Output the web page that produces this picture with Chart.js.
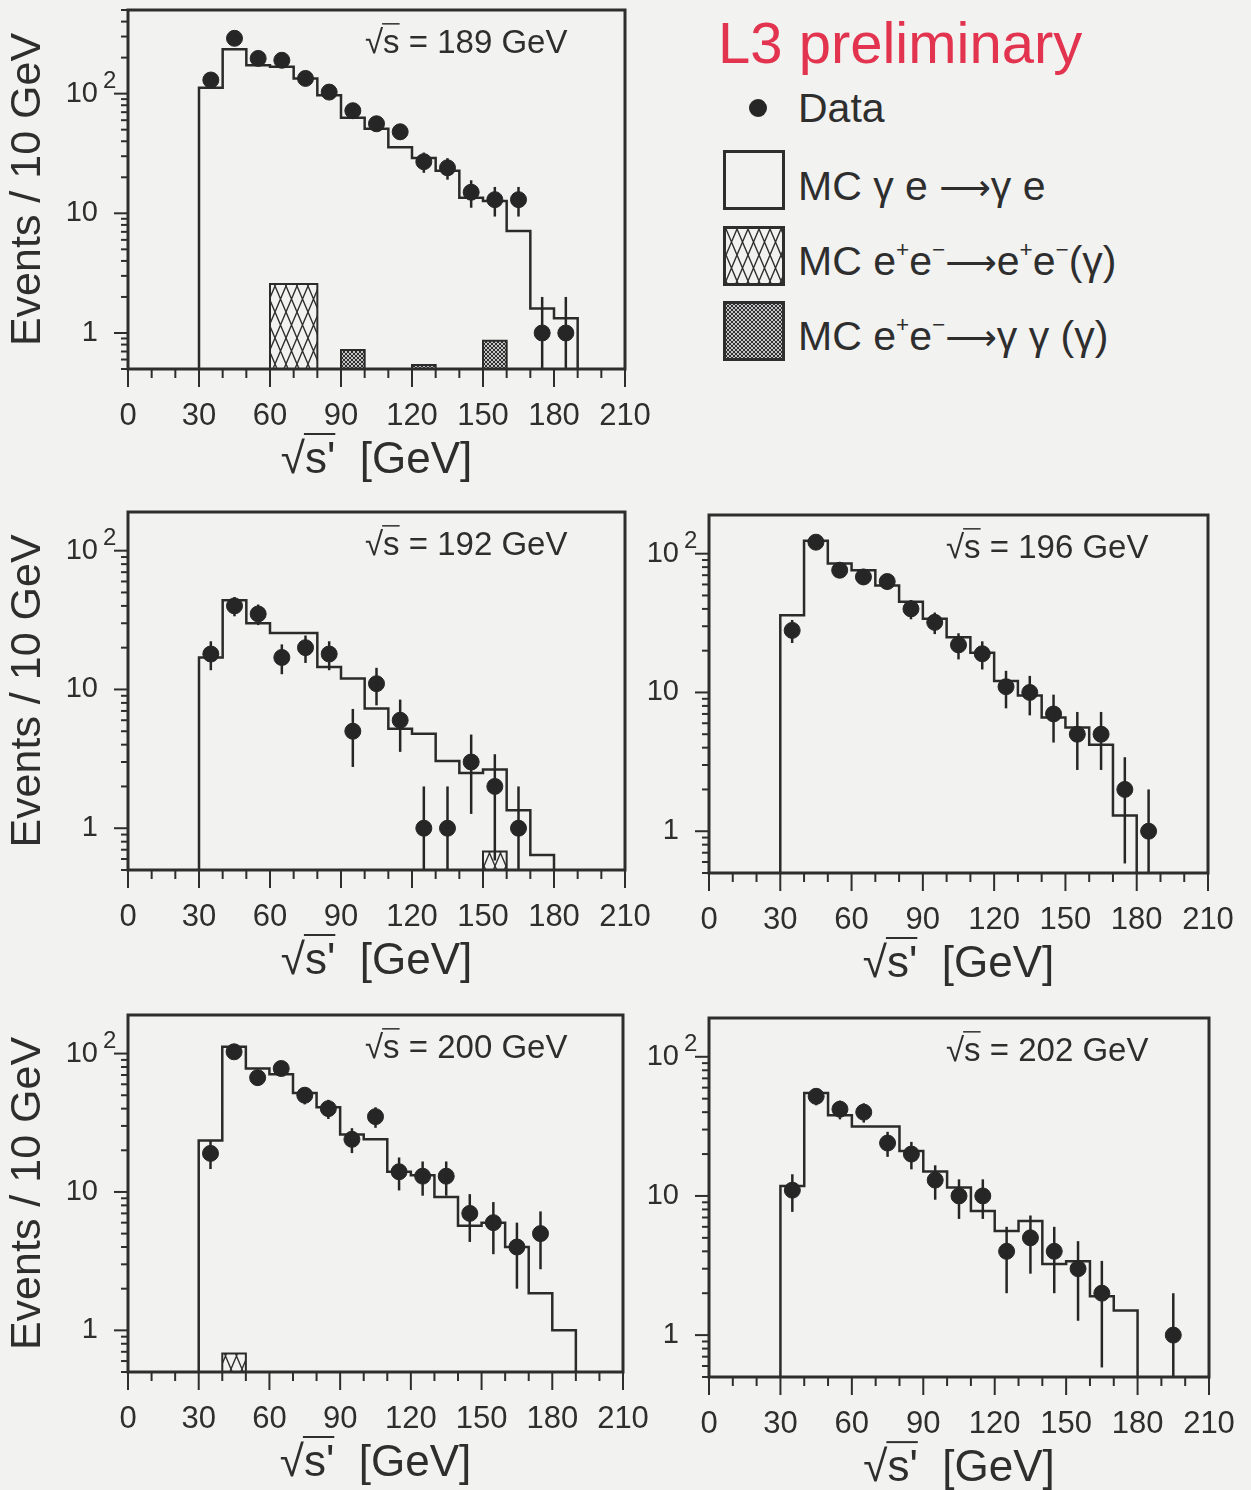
<!DOCTYPE html>
<html>
<head>
<meta charset="utf-8">
<title>L3 preliminary - sqrt(s') spectra</title>
<script src="https://cdn.jsdelivr.net/npm/chart.js@4.4.1/dist/chart.umd.min.js"></script>
<style>
  html, body { margin: 0; padding: 0; }
  body {
    width: 1251px; height: 1490px; position: relative; overflow: hidden;
    background: #f2f2f1; color: #2e2e2e;
    font-family: "Liberation Sans", Arial, sans-serif;
  }
  .panel { position: absolute; }
  .panel canvas { display: block; }
  .lg { position: absolute; white-space: nowrap; }
  #l3 { left: 718px; top: 14px; font-size: 58px; line-height: 58px; color: #e3344f; }
  .lg-text { left: 798px; font-size: 41px; line-height: 40px; height: 40px; }
  .sup { font-size: 55%; position: relative; top: -0.8em; }
  .arr { font-family: "DejaVu Sans", sans-serif; font-size: 36px; }
  .box { position: absolute; left: 723px; width: 56px; height: 54px; border: 3px solid #2e2e2e; }
  .box canvas { display: block; }
  #dot { position: absolute; left: 749px; top: 99px; width: 18px; height: 18px; border-radius: 50%; background: #262626; }
</style>
</head>
<body>

<div class="lg" id="l3">L3 preliminary</div>
<div id="dot"></div>
<div class="lg lg-text" style="top:88px">Data</div>
<div class="box" style="top:150px"></div>
<div class="lg lg-text" style="top:166px">MC γ e <span class="arr">⟶</span>γ e</div>
<div class="box" style="top:226px"><canvas id="swEe" width="56" height="54"></canvas></div>
<div class="lg lg-text" style="top:241px">MC e<span class="sup">+</span>e<span class="sup">−</span><span class="arr">⟶</span>e<span class="sup">+</span>e<span class="sup">−</span>(γ)</div>
<div class="box" style="top:301px"><canvas id="swGg" width="56" height="54"></canvas></div>
<div class="lg lg-text" style="top:316px">MC e<span class="sup">+</span>e<span class="sup">−</span><span class="arr">⟶</span>γ γ (γ)</div>

<script>
// 10 GeV bins, lower edges
const binLow = [30, 40, 50, 60, 70, 80, 90, 100, 110, 120, 130, 140, 150, 160, 170, 180, 190];
const binWidth = 10;
const xTickValues = [0, 30, 60, 90, 120, 150, 180, 210];
const xTickLabels = ['0', '30', '60', '90', '120', '150', '180', '210'];
const yTickValues = [1, 10, 100];
const yTickLabels = ['1', '10', '10^2'];

// sqrt(s) = 189 GeV
const data189 = [130, 290, 197, 190, 134, 103, 72, 56, 48, 27, 24, 15, 13, 13, 1, 1, null];
const mc189 = [112, 235, 173, 168, 134, 97, 63, 51, 35.6, 29, 22.7, 13.5, 12.7, 7.1, 1.6, 1.33, null];
const eeMc189 = [null, null, null, 2.56, 2.56, null, null, null, null, null, null, null, null, null, null, null, null];
const ggMc189 = [null, null, null, null, null, null, 0.72, null, null, 0.54, null, null, 0.86, null, null, null, null];

// sqrt(s) = 192 GeV
const data192 = [18, 40, 35, 17, 20, 18, 5, 11, 6, 1, 1, 3, 2, 1, null, null, null];
const mc192 = [17, 44, 30, 25.5, 25.5, 14.5, 12, 7.3, 5.2, 4.8, 3.05, 2.5, 2.65, 1.35, 0.64, null, null];
const eeMc192 = [null, null, null, null, null, null, null, null, null, null, null, null, 0.68, null, null, null, null];

// sqrt(s) = 196 GeV
const data196 = [28, 121, 76, 68, 63, 40, 32, 22, 19, 11, 10, 7, 5, 5, 2, 1, null];
const mc196 = [36, 124, 85, 76, 59, 45, 34, 25, 19.3, 12.1, 9.5, 6.6, 5.6, 4.2, 1.3, null, null];

// sqrt(s) = 200 GeV
const data200 = [19, 103, 67, 78, 50, 40, 24, 35, 14, 13, 13, 7, 6, 4, 5, null, null];
const mc200 = [23.5, 112, 78, 71, 52, 41, 26, 24, 14, 13.2, 9.2, 5.7, 6.0, 4.0, 1.85, 1.0, null];
const eeMc200 = [null, 0.68, null, null, null, null, null, null, null, null, null, null, null, null, null, null, null];

// sqrt(s) = 202 GeV
const data202 = [11, 52, 42, 40, 24, 20, 13, 10, 10, 4, 5, 4, 3, 2, null, null, 1];
const mc202 = [11.8, 55, 38, 31.6, 31.6, 21, 15, 11.5, 7.8, 5.6, 6.6, 3.25, 3.4, 1.9, 1.5, null, null];

const FONT = '"Liberation Sans", Arial, sans-serif';
const INK = '#2e2e2e';
Chart.defaults.font.family = FONT;
Chart.defaults.color = INK;

// Hatch tiles for the background MC processes
function hatchTile(kind) {
    const c = document.createElement('canvas');
    const w = kind === 'ee' ? 11 : 4;
    const h = kind === 'ee' ? 26 : 4;
    c.width = w; c.height = h;
    const g = c.getContext('2d');
    g.fillStyle = kind === 'ee' ? '#f2f2f1' : '#c4c4c4';
    g.fillRect(0, 0, w, h);
    g.strokeStyle = '#2e2e2e';
    g.lineWidth = kind === 'ee' ? 1.4 : 1;
    g.beginPath();
    g.moveTo(0, 0); g.lineTo(w, h);
    g.moveTo(w, 0); g.lineTo(0, h);
    g.stroke();
    return c;
}
const tiles = { ee: hatchTile('ee'), gg: hatchTile('gg') };
const patternCache = new WeakMap();
function patternFor(kind) {
    return (c) => {
        const chart = c.chart;
        if (!patternCache.has(chart)) patternCache.set(chart, {});
        const cache = patternCache.get(chart);
        if (!cache[kind]) cache[kind] = chart.ctx.createPattern(tiles[kind], 'repeat');
        return cache[kind];
    };
}

// legend swatches
['swEe', 'swGg'].forEach((id, i) => {
    const cv = document.getElementById(id);
    const g = cv.getContext('2d');
    g.fillStyle = g.createPattern(tiles[i === 0 ? 'ee' : 'gg'], 'repeat');
    g.fillRect(0, 0, cv.width, cv.height);
});

// outline of a histogram, one run of filled bins after another
function stepPoints(values, base) {
    const pts = [];
    let open = false;
    values.forEach((v, i) => {
        const x0 = binLow[i];
        if (v == null) {
            if (open) {
                pts.push({ x: x0, y: base });
                pts.push({ x: x0, y: null });
                open = false;
            }
            return;
        }
        if (!open) { pts.push({ x: x0, y: base }); open = true; }
        pts.push({ x: x0, y: v });
    });
    if (open) pts.push({ x: binLow[values.length - 1] + binWidth, y: base });
    return pts;
}

function pointsFrom(counts) {
    const pts = [];
    counts.forEach((n, i) => {
        if (n != null) pts.push({ x: binLow[i] + binWidth / 2, y: n });
    });
    return pts;
}

// sqrt symbol with a bar over the radicand
function drawRoot(ctx, x, yMid, radicand, rest, fs) {
    ctx.font = fs + 'px ' + FONT;
    ctx.textAlign = 'left';
    ctx.textBaseline = 'alphabetic';
    const base = yMid + fs * 0.36;
    const wR = ctx.measureText('√').width;
    const wS = ctx.measureText(radicand).width;
    ctx.fillText('√', x, base);
    ctx.fillText(radicand + rest, x + wR, base);
    ctx.lineWidth = Math.max(1.5, fs / 22);
    ctx.beginPath();
    ctx.moveTo(x + wR - 1, base - fs * 0.88);
    ctx.lineTo(x + wR + wS, base - fs * 0.88);
    ctx.stroke();
}

function rootWidth(ctx, radicand, rest, fs) {
    ctx.font = fs + 'px ' + FONT;
    return ctx.measureText('√').width + ctx.measureText(radicand + rest).width;
}

const decor = {
    id: 'decor',
    afterDatasetsDraw(chart) {
        // Poisson error bars on the data points
        const { ctx, chartArea: a, scales: { y } } = chart;
        const ds = chart.data.datasets[0];
        const meta = chart.getDatasetMeta(0);
        ctx.save();
        ctx.beginPath();
        ctx.rect(a.left, a.top, a.right - a.left, a.bottom - a.top);
        ctx.clip();
        ctx.strokeStyle = '#262626';
        ctx.lineWidth = 2.5;
        meta.data.forEach((el, i) => {
            const n = ds.data[i].y;
            const e = Math.sqrt(n);
            const lo = n - e > y.min ? n - e : y.min;
            ctx.beginPath();
            ctx.moveTo(el.x, y.getPixelForValue(lo));
            ctx.lineTo(el.x, y.getPixelForValue(n + e));
            ctx.stroke();
        });
        ctx.restore();
    },
    afterDraw(chart, args, opts) {
        const { ctx, chartArea: a, scales: { x, y } } = chart;
        ctx.save();
        ctx.strokeStyle = INK;
        ctx.fillStyle = INK;

        // frame
        ctx.lineWidth = 3;
        ctx.strokeRect(a.left, a.top, a.right - a.left, a.bottom - a.top);

        // x tick marks
        ctx.lineWidth = 2;
        for (let v = x.min; v <= x.max; v += 10) {
            const px = x.getPixelForValue(v);
            const len = xTickValues.includes(v) ? 18 : 9;
            ctx.beginPath();
            ctx.moveTo(px, a.bottom);
            ctx.lineTo(px, a.bottom + len);
            ctx.stroke();
        }

        // x tick labels
        ctx.font = '31px ' + FONT;
        ctx.textAlign = 'center';
        ctx.textBaseline = 'middle';
        xTickValues.forEach((v, i) => {
            ctx.fillText(xTickLabels[i], x.getPixelForValue(v), a.bottom + 47);
        });

        // y tick marks (log)
        const e0 = Math.floor(Math.log10(y.min));
        const e1 = Math.ceil(Math.log10(y.max));
        for (let e = e0; e <= e1; e++) {
            for (let k = 1; k <= 9; k++) {
                const v = k * Math.pow(10, e);
                if (v < y.min * 0.999 || v > y.max * 1.001) continue;
                const py = y.getPixelForValue(v);
                const len = k === 1 ? 14 : 7;
                ctx.beginPath();
                ctx.moveTo(a.left - len, py);
                ctx.lineTo(a.left, py);
                ctx.stroke();
            }
        }

        // y tick labels
        ctx.textBaseline = 'middle';
        yTickValues.forEach((v, i) => {
            const py = y.getPixelForValue(v);
            const parts = yTickLabels[i].split('^');
            ctx.font = '29px ' + FONT;
            ctx.textAlign = 'right';
            ctx.fillText(parts[0], a.left - 30, py);
            if (parts[1]) {
                ctx.font = '24px ' + FONT;
                ctx.textAlign = 'left';
                ctx.fillText(parts[1], a.left - 25, py - 12);
            }
        });

        // energy label
        drawRoot(ctx, a.left + 237, a.top + 31, 's', ' = ' + opts.energy + ' GeV', 33);

        // x axis title
        const fs = 44;
        const w = rootWidth(ctx, "s'", '  [GeV]', fs);
        drawRoot(ctx, (a.left + a.right) / 2 - w / 2, a.bottom + 88, "s'", '  [GeV]', fs);
        ctx.restore();
    }
};

const panels = [
    { energy: '189', counts: data189, mc: mc189, ee: eeMc189, gg: ggMc189, yMax: 500, yTitle: true,
      frame: { l: 128, t: 10, r: 625, b: 369 } },
    { energy: '192', counts: data192, mc: mc192, ee: eeMc192, yMax: 190, yTitle: true,
      frame: { l: 128, t: 512, r: 625, b: 870 } },
    { energy: '196', counts: data196, mc: mc196, yMax: 190, yTitle: false,
      frame: { l: 709, t: 515, r: 1208, b: 873 } },
    { energy: '200', counts: data200, mc: mc200, ee: eeMc200, yMax: 190, yTitle: true,
      frame: { l: 128, t: 1015, r: 623, b: 1372 } },
    { energy: '202', counts: data202, mc: mc202, yMax: 190, yTitle: false,
      frame: { l: 709, t: 1018, r: 1209, b: 1377 } }
];

const Y_MIN = 0.5;

function buildPanel(p) {
    const left = p.frame.l - 128;
    const top = p.frame.t - 10;
    const width = p.frame.r - left + 30;
    const height = p.frame.b - top + 118;

    const div = document.createElement('div');
    div.className = 'panel';
    div.style.left = left + 'px';
    div.style.top = top + 'px';
    const cv = document.createElement('canvas');
    cv.width = width; cv.height = height;
    cv.style.width = width + 'px'; cv.style.height = height + 'px';
    div.appendChild(cv);
    document.body.appendChild(div);

    const datasets = [
        {
            type: 'scatter', label: 'Data', data: pointsFrom(p.counts), order: 0,
            pointRadius: 8, pointHoverRadius: 8,
            backgroundColor: '#262626', borderColor: '#262626', borderWidth: 1
        },
        {
            type: 'line', label: 'MC γe → γe', data: stepPoints(p.mc, Y_MIN), order: 1,
            stepped: 'before', borderColor: '#2b2b2b', borderWidth: 2.5,
            pointRadius: 0, fill: false, spanGaps: false
        }
    ];
    if (p.ee) datasets.push({
        type: 'line', label: 'MC ee → ee(γ)', data: stepPoints(p.ee, Y_MIN), order: 2,
        stepped: 'before', borderColor: '#2b2b2b', borderWidth: 2,
        pointRadius: 0, fill: { value: Y_MIN }, backgroundColor: patternFor('ee'), spanGaps: false
    });
    if (p.gg) datasets.push({
        type: 'line', label: 'MC ee → γγ(γ)', data: stepPoints(p.gg, Y_MIN), order: 3,
        stepped: 'before', borderColor: '#2b2b2b', borderWidth: 2,
        pointRadius: 0, fill: { value: Y_MIN }, backgroundColor: patternFor('gg'), spanGaps: false
    });

    new Chart(cv.getContext('2d'), {
        type: 'scatter',
        data: { datasets },
        options: {
            responsive: false,
            animation: false,
            devicePixelRatio: 1,
            layout: { autoPadding: false, padding: { left: 0, top: 10, right: 30, bottom: 0 } },
            plugins: {
                legend: { display: false },
                tooltip: { enabled: false },
                decor: { energy: p.energy }
            },
            scales: {
                x: {
                    type: 'linear', min: 0, max: 210,
                    grid: { display: false, drawTicks: false },
                    border: { display: false },
                    ticks: { display: false },
                    afterBuildTicks: (axis) => { axis.ticks = xTickValues.map(v => ({ value: v })); },
                    afterFit: (axis) => { axis.height = 118; }
                },
                y: {
                    type: 'logarithmic', min: Y_MIN, max: p.yMax,
                    grid: { display: false, drawTicks: false },
                    border: { display: false },
                    ticks: { display: false },
                    title: {
                        display: p.yTitle, text: 'Events / 10 GeV',
                        font: { size: 43, lineHeight: 1 }, color: INK,
                        padding: { top: 7, bottom: 0 }
                    },
                    afterFit: (axis) => { axis.width = 128; }
                }
            }
        },
        plugins: [decor]
    });
}

panels.forEach(buildPanel);
</script>
</body>
</html>
